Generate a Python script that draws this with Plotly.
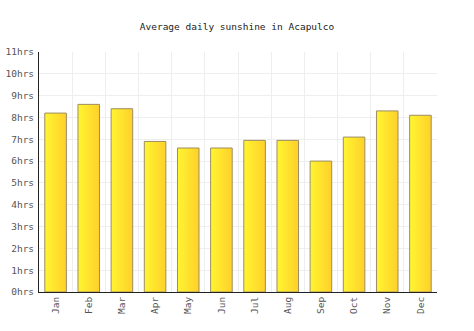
import plotly.graph_objects as go

months = ["Jan", "Feb", "Mar", "Apr", "May", "Jun",
          "Jul", "Aug", "Sep", "Oct", "Nov", "Dec"]
sunshine_hrs = [8.2, 8.6, 8.4, 6.9, 6.6, 6.6, 6.95, 6.95, 6.0, 7.1, 8.3, 8.1]
y_ticks = list(range(0, 12))
y_labels = [f"{v}hrs" for v in y_ticks]

BAR_HALF = 0.325
MONO = "DejaVu Sans Mono"

fig = go.Figure()

# each bar is a filled outline so it can carry a left-to-right gradient
for i, v in enumerate(sunshine_hrs):
    x0, x1 = i - BAR_HALF, i + BAR_HALF
    fig.add_trace(go.Scatter(
        x=[x0, x0, x1, x1, x0],
        y=[0, v, v, 0, 0],
        mode="lines",
        fill="toself",
        fillgradient=dict(type="horizontal",
                          colorscale=[[0, "#fff531"], [1, "#ffd02a"]]),
        line=dict(color="#9c8d63", width=1),
        hoverinfo="text",
        text=f"{months[i]}: {v}hrs",
        showlegend=False,
    ))

fig.update_layout(
    width=474, height=331,
    margin=dict(l=39, r=37, t=52, b=39),
    paper_bgcolor="white", plot_bgcolor="white",
    title=dict(text="Average daily sunshine in Acapulco",
               x=0.5, xanchor="center", y=1 - 27 / 331, yanchor="middle",
               font=dict(family=MONO, size=9.5, color="#222")),
    xaxis=dict(range=[-0.5, 11.5], tickmode="array",
               tickvals=list(range(12)), ticktext=months,
               tickangle=-90, showgrid=False, zeroline=False,
               showline=True, linecolor="#222", linewidth=1,
               ticks="", automargin=False,
               tickfont=dict(family=MONO, size=9.5, color="#555"),
               minor=dict(tick0=-0.5, dtick=1, showgrid=True,
                          gridcolor="#eeeeee", gridwidth=1)),
    yaxis=dict(range=[0, 11], tickmode="array",
               tickvals=y_ticks, ticktext=y_labels,
               showgrid=True, gridcolor="#eeeeee", gridwidth=1,
               zeroline=False, showline=True, linecolor="#222", linewidth=1,
               ticks="", automargin=False, ticklabelstandoff=2,
               tickfont=dict(family=MONO, size=9.5, color="#555")),
)

fig.write_html("out.html")
